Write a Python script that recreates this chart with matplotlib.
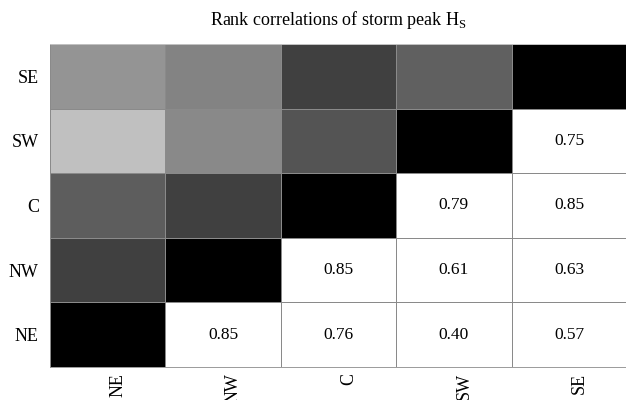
import numpy as np
import matplotlib
matplotlib.use("Agg")
import matplotlib.pyplot as plt
from matplotlib.colors import FuncNorm
from matplotlib.transforms import ScaledTranslation

# Sites, ordered bottom-to-top / left-to-right
sites = ["NE", "NW", "C", "SW", "SE"]

# Rank correlations of storm peak Hs between sites (symmetric)
rho_NE = [1.00, 0.85, 0.76, 0.40, 0.57]
rho_NW = [0.85, 1.00, 0.85, 0.61, 0.63]
rho_C  = [0.76, 0.85, 1.00, 0.79, 0.85]
rho_SW = [0.40, 0.61, 0.79, 1.00, 0.75]
rho_SE = [0.57, 0.63, 0.85, 0.75, 1.00]

rho = np.array([rho_NE, rho_NW, rho_C, rho_SW, rho_SE])
n = len(sites)

plt.rcParams["font.family"] = ["Liberation Serif", "DejaVu Serif"]
plt.rcParams["mathtext.fontset"] = "custom"
plt.rcParams["mathtext.rm"] = "Liberation Serif"

fig = plt.figure(figsize=(6.26, 4.0), dpi=100)
ax = fig.add_axes([50 / 626, 1 - 367 / 400, 577 / 626, 323 / 400])

# shade the diagonal and lower-left half; upper-right half stays white with values
ii, jj = np.indices(rho.shape)
shaded = np.ma.masked_where(jj > ii, rho)

gamma = 0.79
norm = FuncNorm((lambda x: -(1 - x) ** gamma,
                 lambda y: 1 - (-y) ** (1 / gamma)), vmin=0.14, vmax=1.0)
cmap = plt.get_cmap("gray_r").copy()
cmap.set_bad("white")

ax.pcolormesh(np.arange(n + 1), np.arange(n + 1), shaded, cmap=cmap, norm=norm,
              edgecolors="#8a8a8a", linewidth=0.45)

for i in range(n):
    for j in range(n):
        if j > i:
            ax.text(j + 0.5, i + 0.5, f"{rho[i, j]:.2f}", ha="center", va="center",
                    fontsize=12.5, color="black")

ax.set_xlim(0, n)
ax.set_ylim(0, n)
ax.set_xticks(np.arange(n) + 0.5)
ax.set_yticks(np.arange(n) + 0.5)
ax.set_xticklabels(sites, rotation=90, fontsize=13)
ax.set_yticklabels(sites, fontsize=13)
ax.tick_params(axis="y", length=0, pad=8)
ax.tick_params(axis="x", length=0, pad=4.5)
for lab in ax.get_xticklabels():
    lab.set_transform(lab.get_transform() + ScaledTranslation(10 / 100, 0, fig.dpi_scale_trans))

for s in ax.spines.values():
    s.set_color("#8a8a8a")
    s.set_linewidth(0.6)
ax.spines["top"].set_color("#cccccc")

ax.set_title(r"Rank correlations of storm peak $\mathrm{H}_\mathrm{S}$", fontsize=13, pad=14)

fig.savefig("out.png", dpi=100)
